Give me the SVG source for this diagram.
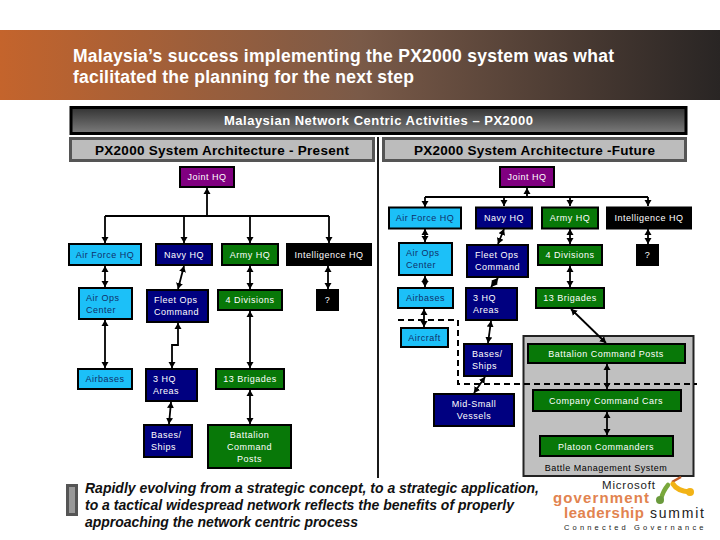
<svg xmlns="http://www.w3.org/2000/svg" width="720" height="540" viewBox="0 0 720 540">
<style>
text{font-family:"Liberation Sans",Arial,sans-serif;font-size:9px;letter-spacing:.5px}
.n{stroke:#000;stroke-width:2}
.c{fill:#1cc0f8}.c+text,.c~text{fill:#10306a}
.b{fill:#000080}.b~text{fill:#fff}
.g{fill:#087808}.g~text{fill:#fff}
.k{fill:#000}.k~text{fill:#fff}
.p{fill:#800080}.p~text{fill:#fff}
.m{text-anchor:middle}
.h{font-size:13.5px;font-weight:bold;letter-spacing:0;fill:#000}
.l{stroke:#000;stroke-width:1.800;fill:none}
.a{marker-end:url(#ah)}
.d{marker-start:url(#ah);marker-end:url(#ah)}
.t{font-size:17.500px;font-weight:bold;fill:#fff;letter-spacing:0}
.q{font-size:14px;font-weight:bold;font-style:italic;fill:#111;letter-spacing:0}
.o{fill:#e2834f;font-weight:bold;font-size:15px;letter-spacing:0}
</style>
<defs>
<linearGradient id="hd" x1="0" x2="1" y1="0" y2="0"><stop offset="0" stop-color="#c4642c"/><stop offset=".5" stop-color="#7a5a48"/><stop offset="1" stop-color="#292524"/></linearGradient>
<linearGradient id="br" x1="0" x2="0" y1="0" y2="1"><stop offset="0" stop-color="#333"/><stop offset="1" stop-color="#7c7c7c"/></linearGradient>
<marker id="ah" markerUnits="userSpaceOnUse" markerWidth="8" markerHeight="8" refX="6" refY="4" orient="auto-start-reverse"><path d="M0 0.500L6 4L0 7.500Z" fill="#000"/></marker>
</defs>
<rect width="720" height="540" fill="#fff"/>
<g id="title"><rect x="0" y="30" width="720" height="70" fill="url(#hd)"/>
<text class="t" x="73" y="62" textLength="541">Malaysia’s success implementing the PX2000 system was what</text>
<text class="t" x="73" y="83" textLength="341">facilitated the planning for the next step</text></g>
<g id="banner"><rect x="71" y="107.500" width="615" height="26" fill="url(#br)" stroke="#000" stroke-width="3"/>
<text x="224" y="125" textLength="309" style="font-size:13px;font-weight:bold;fill:#fff;letter-spacing:0">Malaysian Network Centric Activities – PX2000</text></g>
<g id="present"><rect x="70.500" y="138.500" width="303" height="22" fill="#bcbcbc" stroke="#555" stroke-width="3"/><text class="h" x="95" y="155" textLength="254">PX2000 System Architecture - Present</text></g>
<g id="future"><rect x="383.500" y="138.500" width="302" height="22" fill="#bcbcbc" stroke="#555" stroke-width="3"/><text class="h" x="414" y="155" textLength="241">PX2000 System Architecture -Future</text></g>
<g id="bms-box"><rect x="523.500" y="336" width="170" height="140" fill="#c0c0c0" stroke="#222" stroke-width="2"/></g>
<g id="connectors">
<path class="l" d="M378 137V478"/>
<path class="l a" d="M207 216V188"/>
<path class="l" d="M105 216H329"/>
<path class="l a" d="M105 216V243"/><path class="l a" d="M184 216V243"/><path class="l a" d="M250 216V243"/><path class="l a" d="M329 216V243"/>
<path class="l d" d="M105 266V287"/><path class="l d" d="M184 266L178 289"/><path class="l d" d="M250 266V289"/><path class="l d" d="M328 266V289"/>
<path class="l d" d="M105 320V368"/><path class="l d" d="M178 323V345H172V368"/><path class="l d" d="M250 311V368"/>
<path class="l d" d="M171 402L169 424"/><path class="l d" d="M250 390V424"/>
<path class="l a" d="M527 197V188"/>
<path class="l" d="M425 197H648"/>
<path class="l a" d="M425 197V207"/><path class="l a" d="M504 197V206"/><path class="l a" d="M570 197V206"/><path class="l a" d="M648 197V206"/>
<path class="l d" d="M425 229V242"/><path class="l d" d="M425 276V287"/><path class="l d" d="M424 309V327"/>
<path class="l d" d="M504 229L498 244"/><path class="l d" d="M498 278L491 287"/><path class="l d" d="M491 321L488 343"/><path class="l d" d="M485 377L474 393"/>
<path class="l d" d="M570 229V244"/><path class="l d" d="M648 229V244"/><path class="l d" d="M570 266V287"/>
<path class="l d" d="M571 309L606 343"/><path class="l d" d="M607 364V389"/><path class="l d" d="M607 412V435"/>
<path d="M398 320H458V384H697" fill="none" stroke="#000" stroke-width="2" stroke-dasharray="6 4"/>
</g>
<g id="l-joint"><rect class="n p" x="180" y="167" width="54" height="20"/><text class="m" x="207" y="180">Joint HQ</text></g>
<g id="l-af"><rect class="n c" x="69" y="244" width="72" height="21"/><text class="m" x="105" y="258">Air Force HQ</text></g>
<g id="l-navy"><rect class="n b" x="156" y="244" width="56" height="21"/><text class="m" x="184" y="258">Navy HQ</text></g>
<g id="l-army"><rect class="n g" x="222" y="244" width="56" height="21"/><text class="m" x="250" y="258">Army HQ</text></g>
<g id="l-intel"><rect class="n k" x="287" y="244" width="84" height="21"/><text class="m" x="329" y="258">Intelligence HQ</text></g>
<g id="l-airops"><rect class="n c" x="79" y="288" width="53" height="31"/><text x="86" y="301">Air Ops</text><text x="86" y="313">Center</text></g>
<g id="l-fleet"><rect class="n b" x="147" y="290" width="61" height="32"/><text x="154" y="303">Fleet Ops</text><text x="154" y="315">Command</text></g>
<g id="l-div"><rect class="n g" x="218" y="290" width="64" height="20"/><text class="m" x="250" y="303">4 Divisions</text></g>
<g id="l-q"><rect class="n k" x="317" y="290" width="21" height="20"/><text class="m" x="327.500" y="303">?</text></g>
<g id="l-airbases"><rect class="n c" x="78" y="369" width="54" height="20"/><text class="m" x="105" y="382">Airbases</text></g>
<g id="l-3hq"><rect class="n b" x="146" y="369" width="51" height="32"/><text x="153" y="382">3 HQ</text><text x="153" y="394">Areas</text></g>
<g id="l-13"><rect class="n g" x="216" y="369" width="68" height="20"/><text class="m" x="250" y="382">13 Brigades</text></g>
<g id="l-bases"><rect class="n b" x="144" y="425" width="48" height="32"/><text x="151" y="438">Bases/</text><text x="151" y="450">Ships</text></g>
<g id="l-batt"><rect class="n g" x="208" y="425" width="83" height="43"/><text class="m" x="249.500" y="438">Battalion</text><text class="m" x="249.500" y="450">Command</text><text class="m" x="249.500" y="462">Posts</text></g>
<g id="r-joint"><rect class="n p" x="500" y="167" width="54" height="20"/><text class="m" x="527" y="180">Joint HQ</text></g>
<g id="r-af"><rect class="n c" x="389" y="207.500" width="72" height="21"/><text class="m" x="425" y="221">Air Force HQ</text></g>
<g id="r-navy"><rect class="n b" x="476" y="207.500" width="56" height="21"/><text class="m" x="504" y="221">Navy HQ</text></g>
<g id="r-army"><rect class="n g" x="542" y="207.500" width="56" height="21"/><text class="m" x="570" y="221">Army HQ</text></g>
<g id="r-intel"><rect class="n k" x="607" y="207.500" width="84" height="21"/><text class="m" x="649" y="221">Intelligence HQ</text></g>
<g id="r-airops"><rect class="n c" x="399" y="243" width="53" height="32"/><text x="406" y="256">Air Ops</text><text x="406" y="268">Center</text></g>
<g id="r-fleet"><rect class="n b" x="467" y="245" width="61" height="32"/><text x="475" y="258">Fleet Ops</text><text x="475" y="270">Command</text></g>
<g id="r-div"><rect class="n g" x="538" y="245" width="64" height="20"/><text class="m" x="570" y="258">4 Divisions</text></g>
<g id="r-q"><rect class="n k" x="637" y="245" width="21" height="20"/><text class="m" x="647.500" y="258">?</text></g>
<g id="r-airbases"><rect class="n c" x="398" y="288" width="55" height="20"/><text class="m" x="425.500" y="301">Airbases</text></g>
<g id="r-3hq"><rect class="n b" x="466" y="288" width="51" height="32"/><text x="473" y="301">3 HQ</text><text x="473" y="313">Areas</text></g>
<g id="r-13"><rect class="n g" x="536" y="288" width="68" height="20"/><text class="m" x="570" y="301">13 Brigades</text></g>
<g id="r-aircraft"><rect class="n c" x="401" y="328" width="47" height="19"/><text class="m" x="424.500" y="341">Aircraft</text></g>
<g id="r-bases"><rect class="n b" x="464" y="344" width="48" height="32"/><text x="472" y="357">Bases/</text><text x="472" y="369">Ships</text></g>
<g id="r-mid"><rect class="n b" x="434" y="394" width="80" height="32"/><text class="m" x="474" y="407">Mid-Small</text><text class="m" x="474" y="419">Vessels</text></g>
<g id="r-batt"><rect class="n g" x="528" y="344" width="157" height="19"/><text class="m" x="606" y="357">Battalion Command Posts</text></g>
<g id="r-comp"><rect class="n g" x="533" y="390" width="148" height="21"/><text class="m" x="606" y="404">Company Command Cars</text></g>
<g id="r-plat"><rect class="n g" x="540" y="436" width="133" height="20"/><text class="m" x="606" y="450">Platoon Commanders</text></g>
<text class="m" x="606" y="471" style="fill:#000">Battle Management System</text>
<g id="note"><rect x="67.500" y="485.500" width="9" height="29" fill="#999" stroke="#555" stroke-width="3"/>
<text class="q" x="85" y="493" textLength="454">Rapidly evolving from a strategic concept, to a strategic application,</text>
<text class="q" x="85" y="510" textLength="429">to a tactical widespread network reflects the benefits of properly</text>
<text class="q" x="85" y="527" textLength="273">approaching the network centric process</text></g>
<g id="logo">
<path d="M661 499Q663 491 668 485" fill="none" stroke="#7aa83c" stroke-width="4.500" stroke-linecap="round"/><circle cx="660" cy="500" r="4" fill="#6a9a3c"/>
<path d="M672 482L681 477" stroke="#c05a28" stroke-width="2.500"/>
<path d="M673 484Q677 491 690 492" fill="none" stroke="#f2b316" stroke-width="5" stroke-linecap="round"/><circle cx="690" cy="492" r="4" fill="#f2b316"/>
<text x="602" y="489" textLength="53" style="font-size:11.500px;fill:#222;letter-spacing:0">Microsoft</text>
<text class="o" x="553" y="503" textLength="96">government</text>
<text class="o" x="564" y="518" textLength="80">leadership</text>
<text x="650" y="518" textLength="54" style="font-size:14px;fill:#222;letter-spacing:0">summit</text>
<text x="564" y="530" textLength="140" style="font-size:7.500px;fill:#222">Connected Governance</text>
</g>
</svg>
